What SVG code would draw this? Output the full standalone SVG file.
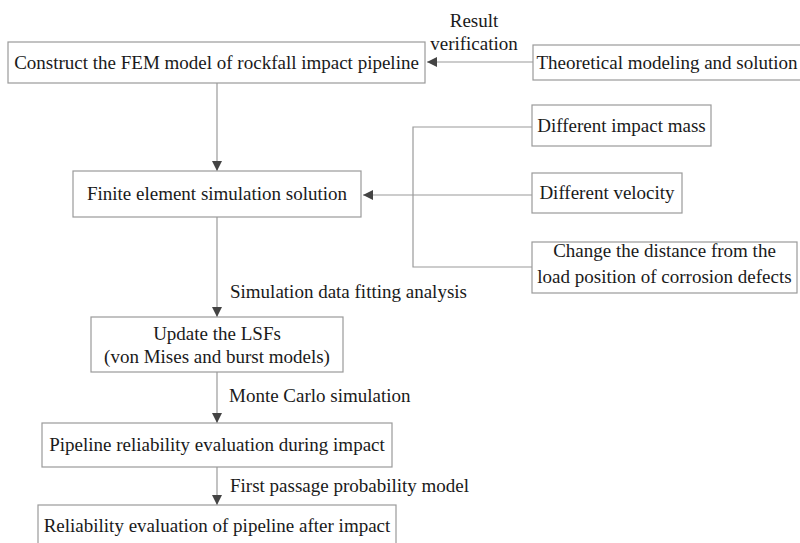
<svg xmlns="http://www.w3.org/2000/svg" width="800" height="543" viewBox="0 0 800 543">
  <style>
    .box { fill: #ffffff; stroke: #9a9a9a; stroke-width: 1.2; }
    .t { font-family: "Liberation Serif", "Times New Roman", serif; font-size: 19px; fill: #1a1a1a; }
    .c { text-anchor: middle; }
    .line { fill: none; stroke: #9a9a9a; stroke-width: 1.2; }
  </style>
  <defs>
    <marker id="arrow" viewBox="0 0 10 10" refX="10" refY="5" markerWidth="10" markerHeight="10" markerUnits="userSpaceOnUse" orient="auto">
      <path d="M0,0 L10,5 L0,10 Z" fill="#444444"/>
    </marker>
  </defs>
  <rect width="800" height="543" fill="#ffffff"/>

  <g id="connectors">
    <path class="line" d="M533,62 H427" marker-end="url(#arrow)"/>
    <path class="line" d="M217,83 V171" marker-end="url(#arrow)"/>
    <path class="line" d="M532,127 H413 V267 H532"/>
    <path class="line" d="M532,195 H363" marker-end="url(#arrow)"/>
    <path class="line" d="M217,217 V317" marker-end="url(#arrow)"/>
    <path class="line" d="M217,372 V423" marker-end="url(#arrow)"/>
    <path class="line" d="M217,467 V505" marker-end="url(#arrow)"/>
    <text class="t c" x="474" y="27">Result</text>
    <text class="t c" x="474" y="50">verification</text>
    <text class="t" x="230" y="298">Simulation data fitting analysis</text>
    <text class="t" x="229" y="402">Monte Carlo simulation</text>
    <text class="t" x="230" y="492">First passage probability model</text>
  </g>

  <g id="fem-model">
    <rect class="box" x="8" y="42" width="417" height="41"/>
    <text class="t c" x="216.5" y="69">Construct the FEM model of rockfall impact pipeline</text>
  </g>
  <g id="theoretical">
    <rect class="box" x="533" y="45" width="268" height="35"/>
    <text class="t c" x="667" y="69">Theoretical modeling and solution</text>
  </g>
  <g id="impact-mass">
    <rect class="box" x="532" y="105" width="179" height="41"/>
    <text class="t c" x="621.5" y="132">Different impact mass</text>
  </g>
  <g id="velocity">
    <rect class="box" x="532" y="173" width="150" height="40"/>
    <text class="t c" x="607" y="199">Different velocity</text>
  </g>
  <g id="distance">
    <rect class="box" x="532" y="242" width="265" height="51"/>
    <text class="t c" x="664.5" y="257">Change the distance from the</text>
    <text class="t c" x="664.5" y="283">load position of corrosion defects</text>
  </g>
  <g id="fe-simulation">
    <rect class="box" x="73" y="171" width="288" height="46"/>
    <text class="t c" x="217" y="200">Finite element simulation solution</text>
  </g>
  <g id="update-lsf">
    <rect class="box" x="91" y="317" width="252" height="55"/>
    <text class="t c" x="217" y="340">Update the LSFs</text>
    <text class="t c" x="217" y="363">(von Mises and burst models)</text>
  </g>
  <g id="during-impact">
    <rect class="box" x="42" y="423" width="350" height="44"/>
    <text class="t c" x="217" y="451">Pipeline reliability evaluation during impact</text>
  </g>
  <g id="after-impact">
    <rect class="box" x="38" y="505" width="358" height="44"/>
    <text class="t c" x="217" y="532">Reliability evaluation of pipeline after impact</text>
  </g>
</svg>
